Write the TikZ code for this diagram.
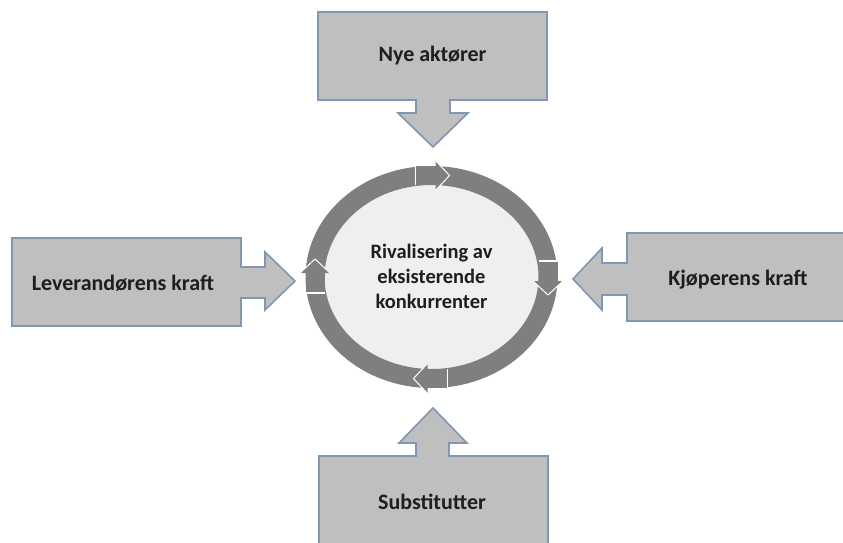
\documentclass[tikz,border=0pt]{standalone}
\usepackage{fontspec}
\setmainfont{Carlito}
\definecolor{boxfill}{HTML}{BFBFBF}
\definecolor{boxline}{HTML}{7F97B2}
\definecolor{ringgray}{HTML}{7F7F7F}
\definecolor{innerfill}{HTML}{EFEFEF}
\definecolor{txt}{HTML}{1E1E1E}
\begin{document}
\begin{tikzpicture}[x=1pt,y=-1pt,
  callout/.style={fill=boxfill,draw=boxline,line width=1.6pt,line join=miter},
  lbl/.style={font=\bfseries\fontsize{22}{26}\selectfont,text=txt,align=center,inner sep=0pt},
  clbl/.style={font=\bfseries\fontsize{20.5}{25}\selectfont,text=txt,align=center,inner sep=0pt}]
\useasboundingbox (0,0) rectangle (843,543);
\clip (0,0) rectangle (843,543);
\fill[white] (0,0) rectangle (843,543);

% central ring
\fill[innerfill] (431.5,277) ellipse [x radius=116.5, y radius=101.5];
\draw[ringgray,line width=19pt] (431.5,277) ellipse [x radius=116.5, y radius=101.5];
\node[clbl] (rival) at (431.5,276) {Rivalisering av\\eksisterende\\konkurrenter};

% ring arrowheads (clockwise)
\foreach \px/\py/\rot in {431.5/175.5/0, 548/277/-90, 431.5/378.5/180, 315/277/90}{
  \begin{scope}[shift={(\px,\py)},rotate=\rot]
    \fill[ringgray] (-16,-9.5) rectangle (5,9.5);
    \draw[white,line width=1.2pt] (-16,-9.5) -- (-16,9.5);
    \fill[ringgray] (4,-15) -- (18,0) -- (4,15) -- cycle;
    \draw[white,line width=1pt] (4,-15) -- (18,0) -- (4,15);
  \end{scope}
}

% top callout
\draw[callout] (318,12) -- (547,12) -- (547,100) -- (450,100) -- (450,113) -- (468,113)
  -- (433,147) -- (398,113) -- (416,113) -- (416,100) -- (318,100) -- cycle;
\node[lbl] (nye) at (432.5,56) {Nye aktører};

% left callout
\draw[callout] (12,238) -- (241,238) -- (241,267) -- (265,267) -- (265,252)
  -- (295,281) -- (265,310) -- (265,298) -- (241,298) -- (241,326) -- (12,326) -- cycle;
\node[lbl] (lev) at (123,283) {Leverandørens kraft};

% right callout
\draw[callout] (627,233) -- (860,233) -- (860,321) -- (627,321) -- (627,295) -- (602,295)
  -- (602,310) -- (573,279) -- (602,248) -- (602,263) -- (627,263) -- cycle;
\node[lbl] (kjo) at (738,280) {Kjøperens kraft};

% bottom callout
\draw[callout] (319,456) -- (416,456) -- (416,443) -- (399,443) -- (433,408) -- (467,443)
  -- (449,443) -- (449,456) -- (548,456) -- (548,560) -- (319,560) -- cycle;
\node[lbl] (sub) at (432,502) {Substitutter};
\end{tikzpicture}
\end{document}
